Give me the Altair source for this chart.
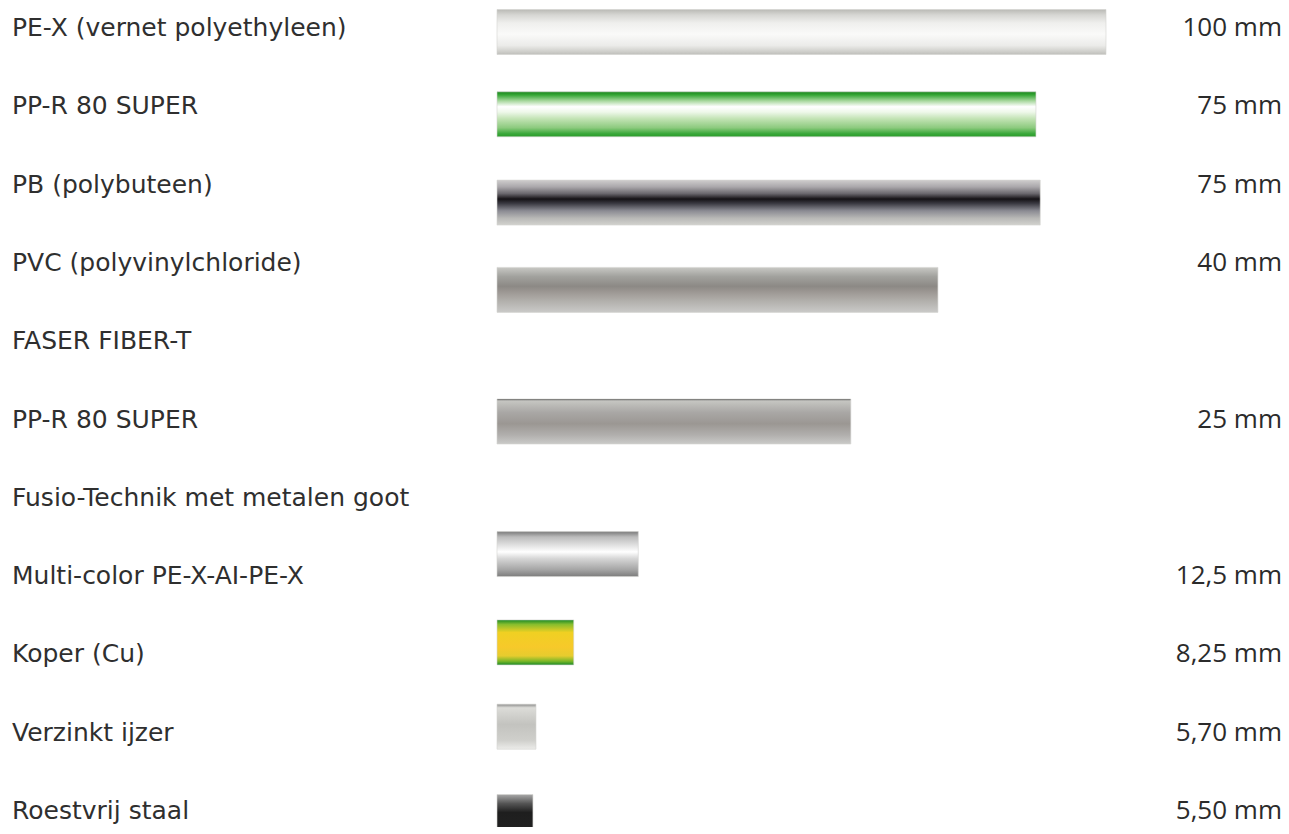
import altair as alt
import pandas as pd

# ---- data ----
materialen = [
    "PE-X (vernet polyethyleen)",
    "PP-R 80 SUPER",
    "PB (polybuteen)",
    "PVC (polyvinylchloride)",
    "FASER FIBER-T",
    "PP-R 80 SUPER",
    "Fusio-Technik met metalen goot",
    "Multi-color PE-X-AI-PE-X",
    "Koper (Cu)",
    "Verzinkt ijzer",
    "Roestvrij staal",
]
diameters = ["100 mm", "75 mm", "75 mm", "40 mm", "", "25 mm", "",
             "12,5 mm", "8,25 mm", "5,70 mm", "5,50 mm"]
# relative pipe length as drawn (longest = 100); None = heading row without pipe
lengte = [100, 88.5, 89.2, 72.4, None, 58.1, None, 23.2, 12.6, 6.4, 5.9]

df = pd.DataFrame({
    "rij": list(range(len(materialen))),
    "materiaal": materialen,
    "diameter": diameters,
    "lengte": lengte,
})

# ---- styles (gradient per pipe, vertical nudge) ----
def grad(stops):
    return alt.LinearGradient(
        gradient="linear", x1=0, y1=0, x2=0, y2=1,
        stops=[alt.GradientStop(color=c, offset=o) for o, c in stops],
    )

pipe_style = {
    0: (grad([(0, "#b9b9b5"), (0.12, "#d6d6d3"), (0.3, "#efefed"), (0.55, "#fafaf9"),
              (0.8, "#ebebe9"), (0.92, "#d2d2ce"), (1, "#bebeba")]), 4),
    1: (grad([(0, "#1b861c"), (0.07, "#35a635"), (0.2, "#a6d79c"), (0.33, "#ffffff"),
              (0.45, "#eef8ea"), (0.6, "#c2e3b4"), (0.8, "#8cca7e"), (0.93, "#3aa83a"),
              (1, "#2a9a2a")]), 8),
    2: (grad([(0, "#cfcdcd"), (0.15, "#aaa7ab"), (0.3, "#6a676d"), (0.42, "#151216"),
              (0.52, "#3b3a42"), (0.68, "#8a8a92"), (0.85, "#b9b9b7"), (1, "#d2d2ce")]), 18),
    3: (grad([(0, "#c8c8c4"), (0.2, "#a2a29e"), (0.42, "#8c8985"), (0.55, "#9d9894"),
              (0.75, "#b2b0ac"), (1, "#cacac8")]), 27),
    5: (grad([(0, "#3a3a3a"), (0.04, "#c6c6c2"), (0.3, "#a9a7a5"), (0.55, "#9b9793"),
              (0.8, "#b1afad"), (1, "#cacac8")]), 2),
    7: (grad([(0, "#7a7a7a"), (0.12, "#bcbcbc"), (0.32, "#e4e4e4"), (0.45, "#ffffff"),
              (0.6, "#d6d6d6"), (0.85, "#a4a4a4"), (1, "#7c7c7c")]), -22),
    8: (grad([(0, "#1b8a26"), (0.1, "#86bd2e"), (0.28, "#f0d022"), (0.6, "#f7c92a"),
              (0.8, "#e6cc2e"), (0.92, "#78b628"), (1, "#1b8a26")]), -12),
    9: (grad([(0, "#8a8a8a"), (0.08, "#dcdcd8"), (0.45, "#c3c3bf"), (0.8, "#cfcfcb"),
              (1, "#ececea")]), -6),
    10: (grad([(0, "#a8a8a8"), (0.2, "#555555"), (0.4, "#1e1e1e"), (1, "#222222")]), 6),
}

ROW_STEP = 78.3
n = len(materialen)
H = round(ROW_STEP * (n - 1))
W = 1273

y_enc = alt.Y("rij:O", axis=None,
              scale=alt.Scale(type="point", padding=0, domain=list(range(n))))

base = alt.Chart(df)

layers = []
for rij, (g, dy) in pipe_style.items():
    layers.append(
        base.transform_filter(alt.datum.rij == rij)
        .mark_bar(height=45, yOffset=dy, color=g, stroke="#d4d4d0", strokeWidth=0.6)
        .encode(
            x=alt.X("lengte:Q", axis=None,
                    scale=alt.Scale(domain=[0, 100], range=[489, 1098], zero=True)),
            y=y_enc,
        )
    )

left_text = base.mark_text(
    align="left", baseline="middle", font="DejaVu Sans", fontSize=25, color="#2f2f2f"
).encode(x=alt.value(4), y=y_enc, text="materiaal:N")

right_text = base.transform_filter(alt.datum.diameter != "").mark_text(
    align="right", baseline="middle", font="Open Sans", fontSize=26, color="#2b2b2b"
).encode(x=alt.value(1274), y=y_enc, text="diameter:N")

chart = alt.layer(*layers, left_text, right_text).properties(
    width=W, height=H, padding={"top": 20, "left": 0, "right": 0, "bottom": 16},
    autosize=alt.AutoSizeParams(type="none"),
    background="white",
).configure_view(stroke=None)

chart.save("out.html", embed_options={"renderer": "svg", "actions": False})
